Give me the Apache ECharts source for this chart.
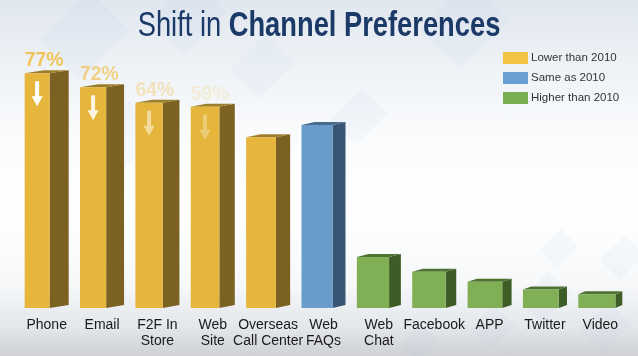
<!DOCTYPE html>
<html>
<head>
<meta charset="utf-8">
<script src="https://cdn.jsdelivr.net/npm/echarts@6/dist/echarts.min.js"></script>
<style>
html,body{margin:0;padding:0;}
body{width:638px;height:356px;overflow:hidden;
background:linear-gradient(180deg,#e1e7ef 0%,#eef2f6 18%,#fbfcfd 40%,#ffffff 60%,#f6f8fa 80%,#e3e6ea 92%,#cfd1d4 100%);}
#c{width:638px;height:356px;}
</style>
</head>
<body>
<div id="c"></div>
<script>
// ---- data ----
const categories = ['Phone','Email','F2F In\nStore','Web\nSite','Overseas\nCall Center','Web\nFAQs','Web\nChat','Facebook','APP','Twitter','Video'];
// bar heights as drawn (same graphic scale as the 77% Phone bar)
const lowerValues  = [77, 72.4, 67.3, 66.0, 56.0, null, null, null, null, null, null];
const sameValues   = [null, null, null, null, null, 60.0, null, null, null, null, null];
const higherValues = [null, null, null, null, null, null, 16.7, 11.9, 8.6, 6.1, 4.5];
const pctLabels = ['77%','72%','64%','59%'];
const groupNames = ['Lower than 2010','Same as 2010','Higher than 2010'];
const titleParts = ['Shift in ', 'Channel Preferences'];

// ---- styles ----
const SANS = "'Liberation Sans',Arial,Helvetica,sans-serif";
const palette = [
  {legend:'#F2C443', front:'#E5B63B', side:'#7C6222', top:'#9C7E2A'},
  {legend:'#6B9FD4', front:'#6A9CCB', side:'#3A5677', top:'#4A6A90'},
  {legend:'#77AE4F', front:'#80AF56', side:'#3E5C26', top:'#4E7232'}
];
const arrowAlpha = [1, 0.85, 0.5, 0.3];
const labelAlpha = [0.9, 0.65, 0.35, 0.18];

function toPairs(arr){
  const out=[];
  arr.forEach((v,i)=>{ if(v!=null) out.push([i,v]); });
  return out;
}

function makeRender(g){
  const pal = palette[g];
  return function(params, api){
    const idx = api.value(0), v = api.value(1);
    const base = api.coord([idx,0]);
    const top = api.coord([idx,v]);
    const band = api.size([1,0])[0];
    const total = band*0.795;
    const frontW = band*(0.45+0.022*idx);
    const sideW = total-frontW;
    const xL = base[0]-total/2, xR = xL+frontW;
    const yB = base[1], yT = top[1], d = 3;
    const children = [
      {type:'polygon', shape:{points:[[xR,yT],[xR+sideW,yT-d],[xR+sideW,yB-d],[xR,yB]]}, style:{fill:pal.side}},
      {type:'polygon', shape:{points:[[xL,yT],[xR,yT],[xR+sideW,yT-d],[xL+sideW,yT-d]]}, style:{fill:pal.top}},
      {type:'rect', shape:{x:xL,y:yT,width:frontW,height:yB-yT}, style:{fill:pal.front}}
    ];
    if(g===0 && idx<pctLabels.length){
      const cx = xL+frontW/2, ay = yT+8, len = 25, hw = 5.5, sw = 2, hl = 10;
      children.push({type:'polygon', shape:{points:[
        [cx-sw,ay],[cx+sw,ay],[cx+sw,ay+len-hl],[cx+hw,ay+len-hl],[cx,ay+len],[cx-hw,ay+len-hl],[cx-sw,ay+len-hl]
      ]}, style:{fill:'#ffffff', opacity:arrowAlpha[idx]}});
      children.push({type:'text', x:xL, y:yT-2, scaleX:0.92, style:{
        text:pctLabels[idx], x:0, y:0, align:'left', verticalAlign:'bottom',
        fill:'#F0C04A', opacity:labelAlpha[idx],
        font:"bold 21px "+SANS
      }});
    }
    return {type:'group', children};
  };
}

// faint background diamonds (decoration only)
const deco = [];
[[40,40,70],[150,20,60],[230,70,50],[420,30,70],[330,120,45],[90,140,55],
 [520,300,40],[580,330,40],[470,330,35],[600,260,35],[400,345,30],[540,250,30]].forEach(function(p){
  deco.push({type:'rect', x:p[0], y:p[1], rotation:Math.PI/4, originX:0, originY:0,
    shape:{x:0,y:0,width:p[2],height:p[2]*0.8},
    style:{fill:'rgba(170,195,225,0.08)'}, silent:true, z:-10});
});

const seriesData = [lowerValues, sameValues, higherValues];
const chart = echarts.init(document.getElementById('c'), null, {renderer:'canvas'});
chart.setOption({
  animation:false,
  graphic:{elements: deco.concat([{
    type:'group', left:'center', top:9, scaleX:0.78, z:10,
    children:[
      {type:'text', x:0, y:0, style:{text:titleParts[0], font:"normal 35px "+SANS, fill:'#1B3A68'}},
      {type:'text', x:116.7, y:0, style:{text:titleParts[1], font:"bold 35px "+SANS, fill:'#1B3A68'}}
    ]
  }])},
  legend:{
    orient:'vertical', left:503, top:52, padding:0,
    itemWidth:25, itemHeight:12, itemGap:8,
    icon:'rect',
    data:groupNames,
    textStyle:{fontFamily:SANS, fontSize:11.5, color:'#333', padding:[0,0,0,-2]},
    selectedMode:false
  },
  grid:{left:19, right:10, top:3, bottom:48, containLabel:false},
  xAxis:{
    type:'category', data:categories,
    axisLine:{show:false}, axisTick:{show:false},
    axisLabel:{interval:0, margin:9, fontFamily:SANS, fontSize:14, lineHeight:16, color:'#1a1a1a'}
  },
  yAxis:{type:'value', min:0, max:100, show:false, splitLine:{show:false}},
  series: seriesData.map((arr,g)=>({
    type:'custom', name:groupNames[g],
    itemStyle:{color:palette[g].legend},
    renderItem:makeRender(g),
    encode:{x:0,y:1},
    data:toPairs(arr)
  }))
});
</script>
</body>
</html>
